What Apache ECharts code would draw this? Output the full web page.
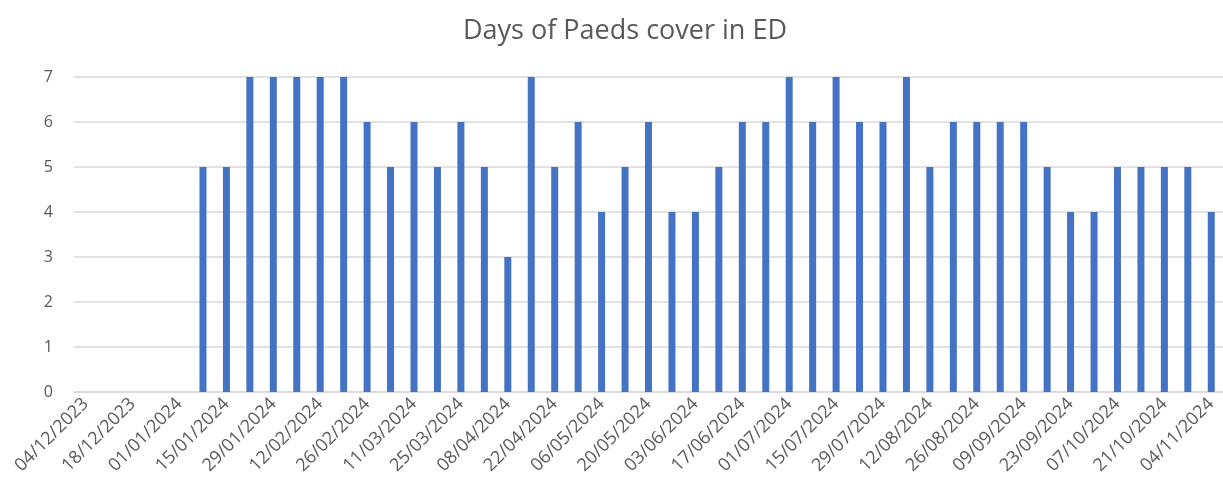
<!DOCTYPE html>
<html>
<head>
<meta charset="utf-8">
<script src="https://cdn.jsdelivr.net/npm/echarts@6/dist/echarts.min.js"></script>
<style>html,body{margin:0;padding:0;background:#fff;}#c{width:1223px;height:488px;}</style>
</head>
<body>
<div id="c"></div>
<script>
const title = 'Days of Paeds cover in ED';
const weeks = [
 '04/12/2023','11/12/2023','18/12/2023','25/12/2023','01/01/2024','08/01/2024','15/01/2024','22/01/2024',
 '29/01/2024','05/02/2024','12/02/2024','19/02/2024','26/02/2024','04/03/2024','11/03/2024','18/03/2024',
 '25/03/2024','01/04/2024','08/04/2024','15/04/2024','22/04/2024','29/04/2024','06/05/2024','13/05/2024',
 '20/05/2024','27/05/2024','03/06/2024','10/06/2024','17/06/2024','24/06/2024','01/07/2024','08/07/2024',
 '15/07/2024','22/07/2024','29/07/2024','05/08/2024','12/08/2024','19/08/2024','26/08/2024','02/09/2024',
 '09/09/2024','16/09/2024','23/09/2024','30/09/2024','07/10/2024','14/10/2024','21/10/2024','28/10/2024',
 '04/11/2024'
];
const days = [
 null,null,null,null,null,5,5,7,
 7,7,7,7,6,5,6,5,
 6,5,3,7,5,6,4,5,
 6,4,4,5,6,6,7,6,
 7,6,6,7,5,6,6,6,
 6,5,4,4,5,5,5,5,
 4
];
const yTicks = [0,1,2,3,4,5,6,7];

const chart = echarts.init(document.getElementById('c'));
chart.setOption({
  animation: false,
  backgroundColor: '#ffffff',
  title: {
    text: title,
    left: 458,
    top: 13,
    textStyle: { fontFamily: 'Open Sans', fontSize: 27, fontWeight: 'normal', color: '#595959' }
  },
  grid: { left: 74, top: 77, width: 1156, height: 315, containLabel: false },
  xAxis: {
    type: 'category',
    data: weeks,
    axisLine: { lineStyle: { color: '#d9d9d9', width: 1.5 } },
    axisTick: { show: false },
    axisLabel: {
      interval: 1,
      rotate: 45,
      margin: 9,
      color: '#595959',
      fontFamily: 'Open Sans',
      fontSize: 18
    }
  },
  yAxis: {
    type: 'value',
    min: yTicks[0],
    max: yTicks[yTicks.length - 1],
    interval: 1,
    axisLine: { show: false },
    axisTick: { show: false },
    splitLine: { lineStyle: { color: '#d9d9d9', width: 1.5 } },
    axisLabel: { margin: 21, color: '#595959', fontFamily: 'Open Sans', fontSize: 16 }
  },
  series: [{
    type: 'bar',
    data: days,
    barWidth: 7,
    itemStyle: { color: '#4472C4' }
  }]
});
</script>
</body>
</html>
